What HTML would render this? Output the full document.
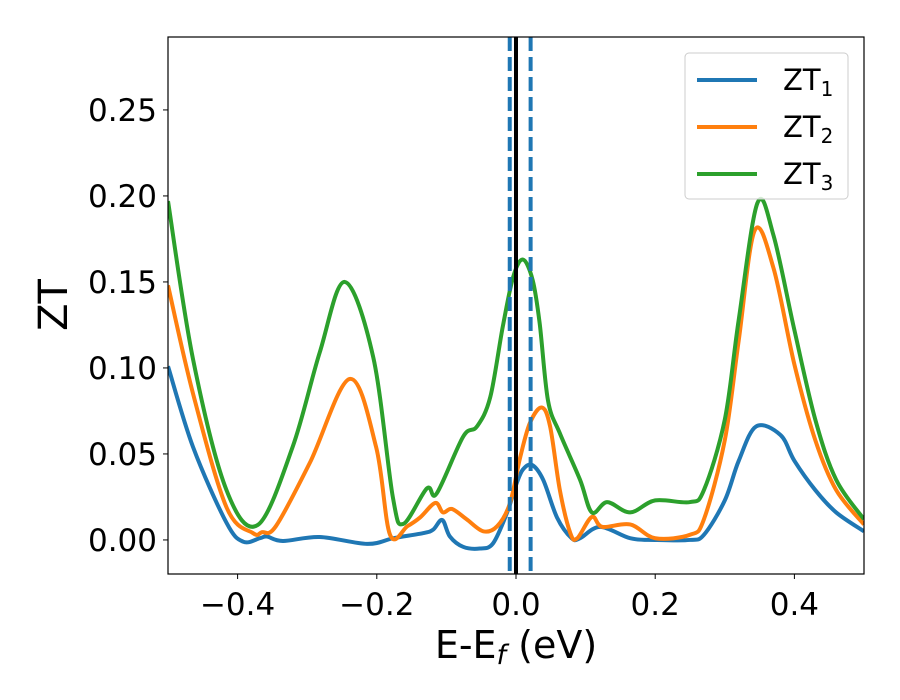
<!DOCTYPE html>
<html><head><meta charset="utf-8"><style>
html,body{margin:0;padding:0;background:#fff;}
svg{display:block;font-family:"DejaVu Sans","Liberation Sans",sans-serif;}
</style></head><body>
<svg id="chart" width="900" height="700" viewBox="0 0 900 700" xmlns="http://www.w3.org/2000/svg">
<rect width="900" height="700" fill="#fff"/>
<g id="plot"></g>
</svg>
<script>
const xTicks=[-0.4,-0.2,0.0,0.2,0.4];
const xTickLabels=["\u22120.4","\u22120.2","0.0","0.2","0.4"];
const yTicks=[0,0.05,0.10,0.15,0.20,0.25];
const yTickLabels=["0.00","0.05","0.10","0.15","0.20","0.25"];
const seriesNames=["ZT1","ZT2","ZT3"];
const seriesColors=["#1f77b4","#ff7f0e","#2ca02c"];
const vlineSolid=[0.0];
const vlineDashed=[-0.009,0.021];
const zt1X=[-0.5,-0.464,-0.416,-0.392,-0.368,-0.358,-0.335,-0.282,-0.214,-0.176,-0.133,-0.119,-0.106,-0.095,-0.076,-0.052,-0.033,-0.013,0.001,0.01,0.023,0.039,0.059,0.08,0.092,0.121,0.164,0.2,0.25,0.27,0.3,0.32,0.345,0.38,0.4,0.43,0.46,0.5];
const zt1Y=[0.101,0.054,0.010,-0.001,0.001,0.002,-0.0006,0.0017,-0.0023,0.001,0.004,0.006,0.0116,0.002,-0.004,-0.005,-0.002,0.0157,0.033,0.041,0.0436,0.035,0.013,0.001,0.001,0.0076,0.001,0.0,0.0,0.003,0.023,0.046,0.066,0.061,0.046,0.029,0.016,0.005];
const zt2X=[-0.5,-0.464,-0.416,-0.378,-0.365,-0.345,-0.296,-0.239,-0.201,-0.181,-0.156,-0.138,-0.116,-0.105,-0.092,-0.071,-0.047,-0.027,-0.009,0.006,0.02,0.037,0.049,0.063,0.078,0.088,0.109,0.124,0.164,0.2,0.25,0.27,0.3,0.32,0.343,0.37,0.4,0.43,0.46,0.5];
const zt2Y=[0.148,0.085,0.019,0.004,0.0045,0.008,0.045,0.0936,0.054,0.003,0.008,0.013,0.0215,0.016,0.018,0.012,0.005,0.008,0.021,0.048,0.068,0.077,0.066,0.029,0.004,0.001,0.0134,0.0076,0.009,0.001,0.003,0.012,0.058,0.116,0.180,0.158,0.102,0.058,0.029,0.009];
const zt3X=[-0.5,-0.464,-0.416,-0.371,-0.321,-0.282,-0.246,-0.205,-0.177,-0.162,-0.128,-0.114,-0.076,-0.056,-0.037,-0.019,-0.004,0.010,0.024,0.034,0.046,0.063,0.092,0.109,0.131,0.164,0.2,0.25,0.27,0.3,0.32,0.347,0.37,0.4,0.43,0.46,0.5];
const zt3Y=[0.197,0.105,0.029,0.0087,0.054,0.109,0.150,0.106,0.025,0.0093,0.030,0.027,0.060,0.066,0.083,0.124,0.153,0.163,0.151,0.126,0.081,0.062,0.035,0.016,0.022,0.016,0.023,0.022,0.029,0.070,0.128,0.196,0.177,0.122,0.070,0.035,0.012];

const L=168,R=864,T=37,B=574;
const xMin=-0.5,xMax=0.5,yMin=-0.0198,yMax=0.2924;
const sx=v=>L+(v-xMin)/(xMax-xMin)*(R-L);
const sy=v=>B-(v-yMin)/(yMax-yMin)*(B-T);
const NS="http://www.w3.org/2000/svg";
const g=document.getElementById('plot');
function mk(tag,attrs,parent){const e=document.createElementNS(NS,tag);for(const k in attrs)e.setAttribute(k,attrs[k]);(parent||g).appendChild(e);return e;}

const clip=mk('clipPath',{id:'clipP'});mk('rect',{x:L,y:T,width:R-L,height:B-T},clip);

function pathFor(xs,ys){
  const p=xs.map((x,i)=>[sx(x),sy(ys[i])]);
  let d='M'+p[0][0]+','+p[0][1];
  for(let i=0;i<p.length-1;i++){
    const p0=p[Math.max(0,i-1)],p1=p[i],p2=p[i+1],p3=p[Math.min(p.length-1,i+2)];
    const c1=[p1[0]+(p2[0]-p0[0])/6,p1[1]+(p2[1]-p0[1])/6];
    const c2=[p2[0]-(p3[0]-p1[0])/6,p2[1]-(p3[1]-p1[1])/6];
    d+=' C'+c1[0]+','+c1[1]+' '+c2[0]+','+c2[1]+' '+p2[0]+','+p2[1];
  }
  return d;
}
const seriesX=[zt1X,zt2X,zt3X],seriesY=[zt1Y,zt2Y,zt3Y];
const lg=mk('g',{'clip-path':'url(#clipP)'});


for(let s=0;s<3;s++){
  const e=mk('path',{d:pathFor(seriesX[s],seriesY[s]),fill:'none',stroke:seriesColors[s],'stroke-width':4,'stroke-linejoin':'round'},lg);
  
  
}
vlineDashed.forEach((v,i)=>{
  const e=mk('line',{x1:sx(v),x2:sx(v),y1:T,y2:B,stroke:'#1f77b4','stroke-width':4,'stroke-dasharray':'14,6'});
  
  
});
vlineSolid.forEach(v=>{
  const e=mk('line',{x1:sx(v),x2:sx(v),y1:T,y2:B,stroke:'#000','stroke-width':4});
  
  
});
const fr=mk('rect',{x:L,y:T,width:R-L,height:B-T,fill:'none',stroke:'#000','stroke-width':1.2});



xTicks.forEach((v,i)=>{
  mk('line',{x1:sx(v),x2:sx(v),y1:B,y2:B+5,stroke:'#000','stroke-width':1});
  const t=mk('text',{x:sx(v),y:B+41,'font-size':31,'text-anchor':'middle'});
  t.textContent=xTickLabels[i];
  
  
});
yTicks.forEach((v,i)=>{
  mk('line',{x1:L-5,x2:L,y1:sy(v),y2:sy(v),stroke:'#000','stroke-width':1});
  const t=mk('text',{x:L-11,y:sy(v)+11,'font-size':31,'text-anchor':'end'});
  t.textContent=yTickLabels[i];
  
  
});
const xt=mk('text',{x:516,y:658,'font-size':38,'text-anchor':'middle'});
xt.innerHTML='E-E<tspan font-size="27" dy="6" font-style="italic">f</tspan><tspan dy="-6"> (eV)</tspan>';


const yt=mk('text',{x:0,y:0,'font-size':40,'text-anchor':'middle',transform:'translate(67,305) rotate(-90)'});
yt.textContent='ZT';



const leg=mk('g',{});


mk('rect',{x:685,y:53,width:163,height:146,rx:4,fill:'#fff','fill-opacity':0.8,stroke:'#ccc','stroke-width':1},leg);
for(let s=0;s<3;s++){
  const y=80+s*47;
  const e=mk('g',{},leg);
  
  
  mk('line',{x1:697,x2:757,y1:y,y2:y,stroke:seriesColors[s],'stroke-width':4},e);
  const t=mk('text',{x:783,y:y+10,'font-size':29},e);
  t.innerHTML='ZT<tspan font-size="20" dy="6">'+(s+1)+'</tspan>';
}
</script>
</body></html>
